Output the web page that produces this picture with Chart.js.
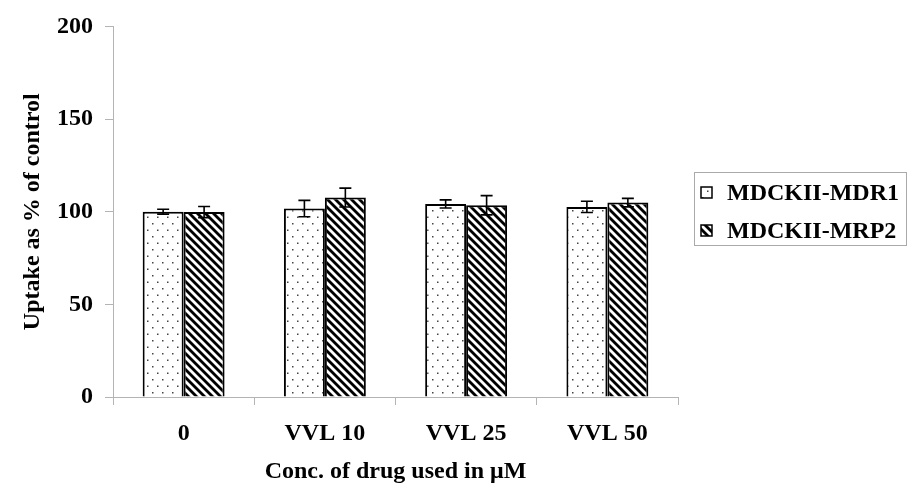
<!DOCTYPE html>
<html><head><meta charset="utf-8">
<script src="https://cdn.jsdelivr.net/npm/chart.js@4"></script>
<style>html,body{margin:0;padding:0;background:#fff;}#wrap{width:921px;height:498px;}</style>
</head><body><div id="wrap"><canvas id="c" width="921" height="498"></canvas></div>
<script>
const categories = ['0', 'VVL 10', 'VVL 25', 'VVL 50'];
const seriesNames = ['MDCKII-MDR1', 'MDCKII-MRP2'];
const mdr1Values = [100, 101.7, 104.2, 102.6];
const mdr1Errors = [1.3, 4.4, 2.2, 3.0];
const mrp2Values = [99.8, 107.6, 103.5, 104.9];
const mrp2Errors = [3.0, 5.1, 5.2, 2.3];
const yTicks = [0, 50, 100, 150, 200];
const xTitle = 'Conc. of drug used in \u03BCM';
const yTitle = 'Uptake as % of control';

const FONT = "'Liberation Serif', 'Times New Roman', serif";
const AXIS_GRAY = '#b4b4b4';

function makeDots() {
  const w = 10, h = 13;
  const c = document.createElement('canvas'); c.width = w; c.height = h;
  const x = c.getContext('2d');
  x.fillStyle = '#fff'; x.fillRect(0, 0, w, h);
  x.fillStyle = '#444';
  x.fillRect(2, 2, 1.5, 1.5); x.fillRect(7, 8.5, 1.5, 1.5);
  return x.createPattern(c, 'repeat');
}
function makeHatch() {
  const s = 8; const c = document.createElement('canvas'); c.width = s; c.height = s;
  const x = c.getContext('2d');
  x.fillStyle = '#fff'; x.fillRect(0, 0, s, s);
  x.strokeStyle = '#000'; x.lineWidth = 2.8;
  for (const k of [-1, 0, 1]) {
    x.beginPath(); x.moveTo(-2, k * s - 2); x.lineTo(s + 2, s + k * s + 2); x.stroke();
  }
  return x.createPattern(c, 'repeat');
}
const dots = makeDots();
const hatch = makeHatch();

const errorBars = {
  id: 'errorBars',
  afterDatasetsDraw(chart) {
    const ctx = chart.ctx, ys = chart.scales.y;
    chart.data.datasets.forEach((ds, i) => {
      const meta = chart.getDatasetMeta(i);
      meta.data.forEach((bar, j) => {
        const v = ds.data[j], e = ds.errors[j];
        const yt = ys.getPixelForValue(v + e), yb = ys.getPixelForValue(v - e);
        ctx.save(); ctx.strokeStyle = '#000'; ctx.lineWidth = 1.6;
        ctx.beginPath();
        ctx.moveTo(bar.x, yt); ctx.lineTo(bar.x, yb);
        ctx.moveTo(bar.x - 6, yt); ctx.lineTo(bar.x + 6, yt);
        ctx.moveTo(bar.x - 6, yb); ctx.lineTo(bar.x + 6, yb);
        ctx.stroke(); ctx.restore();
      });
    });
  }
};

const boxLegend = {
  id: 'boxLegend',
  afterDraw(chart) {
    const ctx = chart.ctx;
    ctx.save();
    ctx.strokeStyle = '#aaaaaa'; ctx.lineWidth = 1;
    ctx.strokeRect(694.5, 172.5, 212, 73);
    ctx.font = 'bold 24px ' + FONT;
    ctx.textBaseline = 'middle'; ctx.textAlign = 'left';
    const rows = [193, 231];
    chart.data.datasets.forEach((ds, i) => {
      const y = rows[i];
      ctx.fillStyle = ds.backgroundColor;
      ctx.fillRect(701, y - 6, 11, 11);
      ctx.strokeStyle = '#000'; ctx.lineWidth = 1.5;
      ctx.strokeRect(701, y - 6, 11, 11);
      ctx.fillStyle = '#000';
      ctx.fillText(ds.label, 727, y + 1);
    });
    ctx.restore();
  }
};

new Chart(document.getElementById('c'), {
  type: 'bar',
  data: {
    labels: categories,
    datasets: [
      { label: seriesNames[0], data: mdr1Values, errors: mdr1Errors, backgroundColor: dots, borderColor: '#000', borderWidth: 2 },
      { label: seriesNames[1], data: mrp2Values, errors: mrp2Errors, backgroundColor: hatch, borderColor: '#000', borderWidth: 2 }
    ]
  },
  plugins: [errorBars, boxLegend],
  options: {
    responsive: false,
    animation: false,
    devicePixelRatio: 1,
    layout: { padding: { left: 0, right: 243, top: 24, bottom: 0 } },
    datasets: { bar: { categoryPercentage: 0.58, barPercentage: 1.0 } },
    plugins: { legend: { display: false }, tooltip: { enabled: false } },
    scales: {
      x: {
        grid: { display: true, drawOnChartArea: false, drawTicks: true, tickLength: 8, color: AXIS_GRAY, offset: true },
        border: { color: AXIS_GRAY, width: 1 },
        ticks: { color: '#000', padding: 14, font: { family: FONT, size: 24, weight: 'bold' } },
        title: { display: true, text: xTitle, color: '#000', padding: { top: 0, bottom: 12 }, font: { family: FONT, size: 24, weight: 'bold' } },
        afterFit(scale) { scale.height = 101; }
      },
      y: {
        min: 0, max: 200,
        afterBuildTicks(scale) { scale.ticks = yTicks.map(v => ({ value: v })); },
        grid: { display: true, drawOnChartArea: false, drawTicks: true, tickLength: 8, color: AXIS_GRAY },
        border: { color: AXIS_GRAY, width: 1 },
        ticks: { color: '#000', padding: 12, font: { family: FONT, size: 24, weight: 'bold' } },
        title: { display: true, text: yTitle, color: '#000', padding: { top: 18, bottom: 0 }, font: { family: FONT, size: 24, weight: 'bold' } },
        afterFit(scale) { scale.width = 113; }
      }
    }
  }
});
</script>
</body></html>
